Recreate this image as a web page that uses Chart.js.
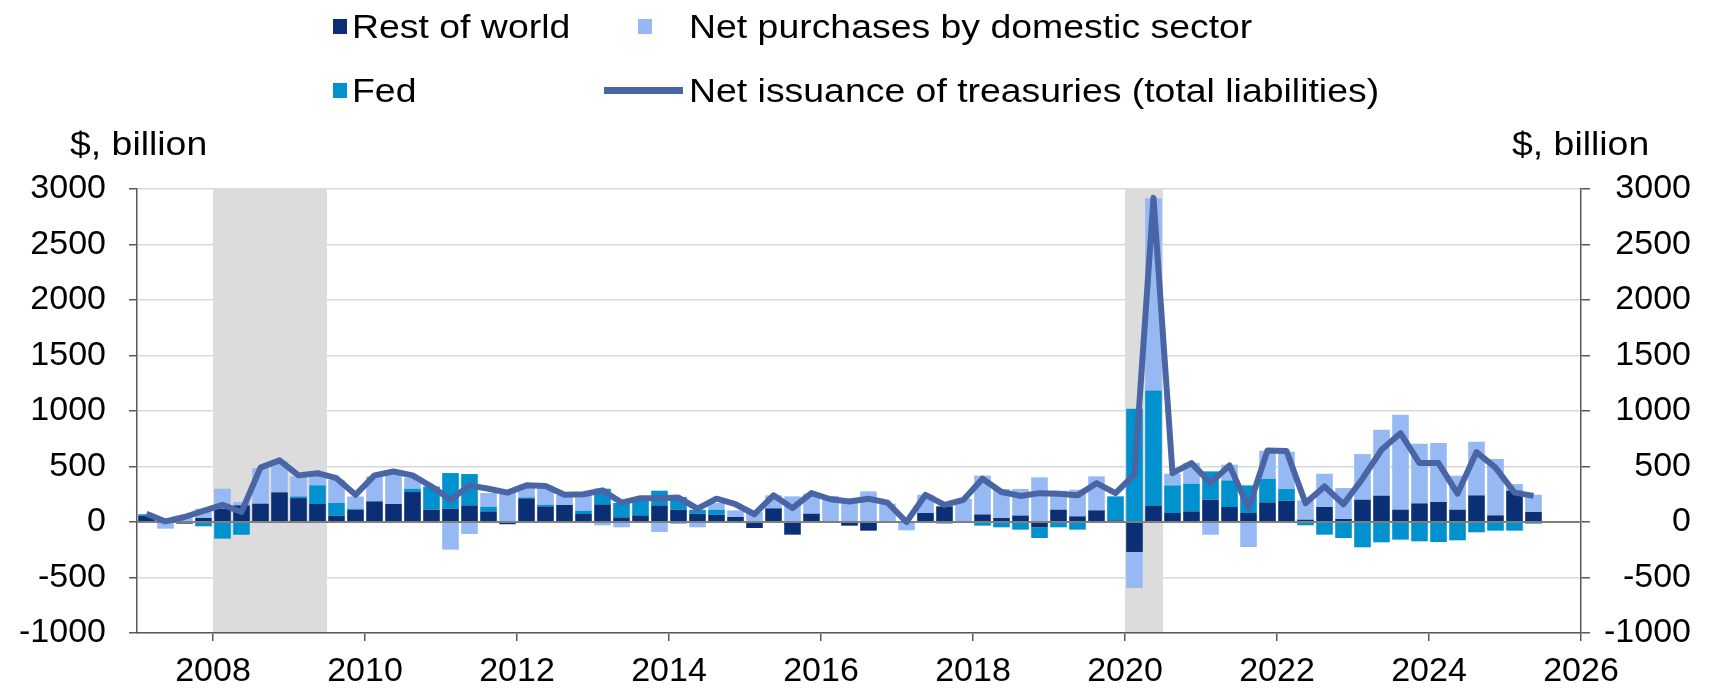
<!DOCTYPE html>
<html>
<head>
<meta charset="utf-8">
<title>Net issuance of treasuries and purchases by sector</title>
<script src="https://cdn.jsdelivr.net/npm/chart.js@4.4.1/dist/chart.umd.min.js"></script>
<style>
  html, body { margin: 0; padding: 0; background: #fff; }
  #wrap { position: relative; width: 1721px; height: 691px; overflow: hidden;
          font-family: 'Liberation Sans', Arial, sans-serif; color: #000; }
  #wrap canvas { position: absolute; left: 0; top: 0; }
  .txt { position: absolute; font-size: 34px; line-height: 40px; white-space: nowrap;
         transform-origin: left center; transform: scaleX(1.1); }
  .key { position: absolute; }
</style>
</head>
<body>
<div id="wrap">
  <canvas id="chart" width="1721" height="691"></canvas>
</div>
<script>
// quarterly observations, 2007Q1 - 2025Q2
const quarters = [
  '2007Q1','2007Q2','2007Q3','2007Q4','2008Q1','2008Q2','2008Q3','2008Q4',
  '2009Q1','2009Q2','2009Q3','2009Q4','2010Q1','2010Q2','2010Q3','2010Q4',
  '2011Q1','2011Q2','2011Q3','2011Q4','2012Q1','2012Q2','2012Q3','2012Q4',
  '2013Q1','2013Q2','2013Q3','2013Q4','2014Q1','2014Q2','2014Q3','2014Q4',
  '2015Q1','2015Q2','2015Q3','2015Q4','2016Q1','2016Q2','2016Q3','2016Q4',
  '2017Q1','2017Q2','2017Q3','2017Q4','2018Q1','2018Q2','2018Q3','2018Q4',
  '2019Q1','2019Q2','2019Q3','2019Q4','2020Q1','2020Q2','2020Q3','2020Q4',
  '2021Q1','2021Q2','2021Q3','2021Q4','2022Q1','2022Q2','2022Q3','2022Q4',
  '2023Q1','2023Q2','2023Q3','2023Q4','2024Q1','2024Q2','2024Q3','2024Q4',
  '2025Q1','2025Q2'
];

// $ billion
const restOfWorld = [
  55, 5, -15, 36, 120, 150, 165, 267, 215, 162, 57, 111, 186, 162, 270, 111,
  120, 150, 96, -20, 213, 141, 153, 72, 159, 42, 60, 150, 111, 75, 66, 45,
  -54, 123, -114, 75, 5, -33, -78, 0, 5, 81, 141, -5, 68, 36, 58, -48,
  111, 51, 105, 15, -270, 147, 81, 96, 201, 135, 81, 177, 192, 21, 135, 27,
  201, 237, 111, 168, 180, 111, 240, 60, 282, 90
];
const fed = [
  15, 15, 10, -39, -150, -115, 0, 0, 15, 168, 114, 9, 0, 0, 30, 204,
  321, 282, 42, 0, 9, 15, 0, 30, 141, 129, 150, 132, 114, 35, 45, 0,
  0, 0, 0, 0, 0, 0, 0, 0, 0, 0, 0, 0, -33, -48, -69, -96,
  -48, -69, 0, 216, 1020, 1038, 249, 249, 255, 240, 249, 213, 105, -30, -114, -144,
  -228, -183, -159, -174, -180, -165, -93, -78, -78, -15
];
const domestic = [
  0, -60, 30, 84, 180, 30, 320, 280, 180, 120, 210, 110, 225, 300, 100, 10,
  -249, -108, 123, 266, 110, 170, 90, 140, -30, -48, 0, -90, -18, -48, 60, 60,
  90, 117, 231, 180, 230, 210, 276, 165, -75, 165, -18, 210, 350, 261, 240, 402,
  170, 240, 306, 0, -324, 1731, 105, 186, -114, 141, -225, 252, 336, 174, 300, 279,
  411, 594, 855, 537, 531, 306, 483, 507, 60, 156
];
const netIssuance = [
  75, 5, 45, 100, 155, 90, 490, 555, 420, 440, 395, 245, 420, 455, 420, 320,
  200, 330, 300, 265, 330, 325, 245, 250, 285, 175, 215, 215, 220, 120, 210, 160,
  70, 240, 125, 260, 205, 185, 210, 175, 0, 245, 155, 200, 390, 270, 235, 260,
  255, 240, 350, 260, 430, 2920, 440, 530, 350, 510, 125, 645, 640, 170, 320, 160,
  390, 650, 800, 531, 531, 255, 630, 490, 265, 235
];

const recessions = [['2008Q1', '2009Q2'], ['2020Q1', '2020Q2']];
const yearTicks = [2008, 2010, 2012, 2014, 2016, 2018, 2020, 2022, 2024, 2026];
const yRange = [-1000, 3000];
const yStep = 500;
const xRange = [2007, 2026];

const labels = {
  row: 'Rest of world',
  fed: 'Fed',
  dom: 'Net purchases by domestic sector',
  net: 'Net issuance of treasuries (total liabilities)',
  unit: '$, billion'
};
const colors = {
  row: '#0a2f74',
  fed: '#0092cf',
  dom: '#96b9f3',
  net: '#4a65a5',
  shade: '#dcdcdc',
  grid: '#d9d9d9',
  axis: '#595959',
  zero: '#7f7f7f'
};

function quarterStart(q) {
  return Number(q.slice(0, 4)) + (Number(q.slice(5)) - 1) / 4;
}
function quarterMid(q) { return quarterStart(q) + 0.125; }
function quarterEnd(q) { return quarterStart(q) + 0.25; }

function points(values) {
  return values.map((v, i) => ({ x: quarterMid(quarters[i]), y: v }));
}

const recessionShading = {
  id: 'recessionShading',
  beforeDatasetsDraw(chart) {
    const { ctx, chartArea, scales: { x } } = chart;
    ctx.save();
    ctx.fillStyle = colors.shade;
    recessions.forEach(([from, to]) => {
      const x0 = x.getPixelForValue(quarterStart(from));
      const x1 = x.getPixelForValue(quarterEnd(to));
      ctx.fillRect(x0, chartArea.top, x1 - x0, chartArea.bottom - chartArea.top - 1);
    });
    ctx.restore();
  }
};

// zero line sits over the bars but under the issuance line
const zeroLine = {
  id: 'zeroLine',
  beforeDatasetDraw(chart, args) {
    if (chart.data.datasets[args.index].type !== 'line') return;
    const { ctx, chartArea, scales: { y } } = chart;
    const py = y.getPixelForValue(0);
    ctx.save();
    ctx.strokeStyle = colors.zero;
    ctx.lineWidth = 2;
    ctx.beginPath();
    ctx.moveTo(chartArea.left, py);
    ctx.lineTo(chartArea.right, py);
    ctx.stroke();
    ctx.restore();
  }
};

Chart.defaults.font.family = "'Liberation Sans', Arial, sans-serif";
Chart.defaults.font.size = 34;
Chart.defaults.color = '#000';

const barStyle = { type: 'bar', order: 1, barPercentage: 0.95, categoryPercentage: 0.92, borderWidth: 0 };
const plainNumber = v => String(v);

const chart = new Chart(document.getElementById('chart'), {
  data: {
    datasets: [
      Object.assign({ label: labels.row, data: points(restOfWorld), backgroundColor: colors.row }, barStyle),
      Object.assign({ label: labels.fed, data: points(fed), backgroundColor: colors.fed }, barStyle),
      Object.assign({ label: labels.dom, data: points(domestic), backgroundColor: colors.dom }, barStyle),
      {
        type: 'line',
        label: labels.net,
        order: 0,
        stack: 'total',
        data: points(netIssuance),
        borderColor: colors.net,
        borderWidth: 6,
        pointRadius: 0,
        tension: 0,
        borderJoinStyle: 'round'
      }
    ]
  },
  plugins: [recessionShading, zeroLine],
  options: {
    responsive: false,
    animation: false,
    events: [],
    layout: { padding: { top: 189, right: 30, left: 0, bottom: 0 } },
    plugins: { legend: { display: false }, tooltip: { enabled: false } },
    scales: {
      x: {
        type: 'linear',
        stacked: true,
        offset: false,
        min: xRange[0],
        max: xRange[1],
        afterBuildTicks: s => { s.ticks = yearTicks.map(v => ({ value: v })); },
        afterFit: s => { s.height = 58; },
        ticks: { callback: plainNumber, padding: 10, maxRotation: 0, autoSkip: false },
        grid: { drawOnChartArea: false, offset: false, tickLength: 8, color: colors.axis, lineWidth: 1.5 },
        border: { color: colors.axis, width: 1.5 }
      },
      y: {
        position: 'left',
        stacked: true,
        min: yRange[0],
        max: yRange[1],
        afterFit: s => { s.width = 137; },
        ticks: { stepSize: yStep, padding: 23, callback: plainNumber },
        grid: { color: colors.grid, lineWidth: 1.5, tickColor: colors.axis, tickLength: 8 },
        border: { color: colors.axis, width: 1.5 }
      },
      y2: {
        position: 'right',
        min: yRange[0],
        max: yRange[1],
        afterFit: s => { s.width = 110; },
        ticks: { stepSize: yStep, padding: 12, crossAlign: 'far', callback: plainNumber },
        grid: { drawOnChartArea: false, color: colors.axis, tickLength: 9, lineWidth: 1.5 },
        border: { color: colors.axis, width: 1.5 }
      }
    }
  }
});

// legend and unit labels as html text
const wrap = document.getElementById('wrap');
function addText(text, left, centerY) {
  const el = document.createElement('div');
  el.className = 'txt';
  el.textContent = text;
  el.style.left = left + 'px';
  el.style.top = (centerY - 20) + 'px';
  wrap.appendChild(el);
  return el;
}
function addKey(left, centerY, w, h, color) {
  const el = document.createElement('div');
  el.className = 'key';
  el.style.left = left + 'px';
  el.style.top = (centerY - h / 2) + 'px';
  el.style.width = w + 'px';
  el.style.height = h + 'px';
  el.style.background = color;
  wrap.appendChild(el);
}

const legendItems = [
  { text: labels.row, color: colors.row, key: [333, 14, 15], textX: 352, y: 26 },
  { text: labels.dom, color: colors.dom, key: [638, 14, 15], textX: 689, y: 26 },
  { text: labels.fed, color: colors.fed, key: [333, 14, 15], textX: 352, y: 90 },
  { text: labels.net, color: colors.net, key: [604, 79, 7], textX: 689, y: 90 }
];
legendItems.forEach(it => {
  addKey(it.key[0], it.y, it.key[1], it.key[2], it.color);
  addText(it.text, it.textX, it.y);
});
addText(labels.unit, 70, 143);
addText(labels.unit, 1512, 143);
</script>
</body>
</html>
